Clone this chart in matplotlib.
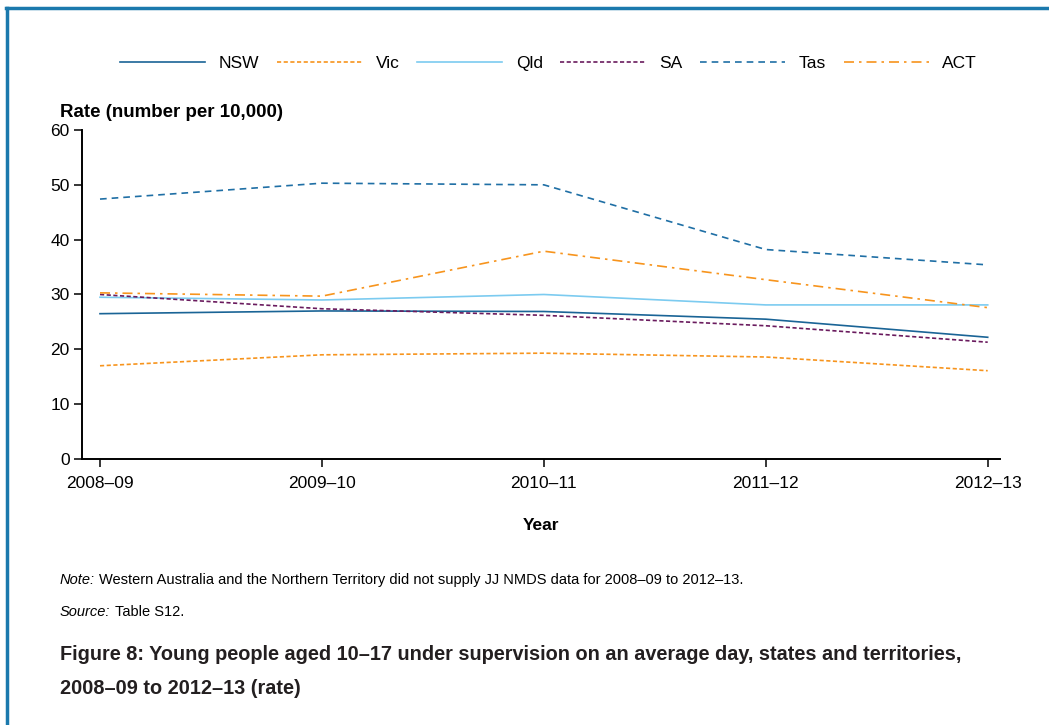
import matplotlib.pyplot as plt
from matplotlib.lines import Line2D

years = ["2008–09", "2009–10", "2010–11", "2011–12", "2012–13"]

nsw = [26.5, 27.0, 26.9, 25.5, 22.2]
vic = [17.0, 19.0, 19.3, 18.6, 16.1]
qld = [29.5, 29.0, 30.0, 28.1, 28.1]
sa = [30.0, 27.4, 26.2, 24.3, 21.3]
tas = [47.4, 50.3, 50.0, 38.2, 35.4]
act = [30.3, 29.7, 37.9, 32.7, 27.6]

plt.rcParams['font.family'] = ['Liberation Sans', 'DejaVu Sans']

fig = plt.figure(figsize=(10.49, 7.25), dpi=100)
ax = fig.add_axes([0.0782, 0.3669, 0.8748, 0.4538])

x = list(range(len(years)))
lw = 1.2
ax.plot(x, nsw, color="#1a6496", lw=lw, label="NSW")
ax.plot(x, vic, color="#f7941d", lw=lw, ls=(0, (2.5, 1.5)), label="Vic")
ax.plot(x, qld, color="#7ccbf0", lw=lw, label="Qld")
ax.plot(x, sa, color="#6a1b5e", lw=lw, ls=(0, (2.5, 1.5)), label="SA")
ax.plot(x, tas, color="#1f6fa5", lw=lw, ls=(0, (4, 3)), label="Tas")
ax.plot(x, act, color="#f7941d", lw=lw, ls=(0, (6, 3, 1.5, 3)), label="ACT")

ax.set_xlim(-0.081, 4.054)
ax.set_ylim(0, 60)
ax.set_yticks(range(0, 61, 10))
ax.set_xticks(x, years)
ax.spines['top'].set_visible(False)
ax.spines['right'].set_visible(False)
ax.spines['left'].set_linewidth(1.4)
ax.spines['bottom'].set_linewidth(1.4)
ax.tick_params(axis='both', labelsize=12.5, length=6, width=1.1, direction='out')
ax.tick_params(axis='x', pad=6)
ax.tick_params(axis='y', pad=3)

ax.set_xlabel("Year", fontsize=12.5, fontweight='bold', labelpad=20)
fig.text(0.0572, 0.845, "Rate (number per 10,000)", fontsize=13.5, fontweight='bold',
         va='center', ha='left')

fig.legend(loc='center', bbox_to_anchor=(0.523, 0.913), ncol=6, frameon=False,
           fontsize=12.5, handlelength=4.9, handletextpad=0.8, columnspacing=1.0)

# notes and caption
renderer = fig.canvas.get_renderer()
inv = fig.transFigure.inverted()


def label_pair(y, head, body):
    t = fig.text(0.0572, y, head, fontsize=10.5, style='italic', va='center')
    ext = t.get_window_extent(renderer)
    x1 = inv.transform((ext.x1 + 4, 0))[0]
    fig.text(x1, y, body, fontsize=10.5, va='center')


label_pair(0.2, "Note:", "Western Australia and the Northern Territory did not supply JJ NMDS data for 2008–09 to 2012–13.")
label_pair(0.156, "Source:", "Table S12.")

cap_col = "#231f20"
fig.text(0.0572, 1 - 655 / 725, "Figure 8: Young people aged 10–17 under supervision on an average day, states and territories,",
         fontsize=14.3, fontweight='bold', va='center', color=cap_col)
fig.text(0.0572, 1 - 688 / 725, "2008–09 to 2012–13 (rate)",
         fontsize=14.3, fontweight='bold', va='center', color=cap_col)

border = "#1b79ad"
fig.add_artist(Line2D([0.006, 1.0], [0.989, 0.989], color=border, lw=2.5, transform=fig.transFigure))
fig.add_artist(Line2D([0.0068, 0.0068], [0.0, 0.989], color=border, lw=2.5, transform=fig.transFigure))

fig.savefig("out.png", dpi=100)
